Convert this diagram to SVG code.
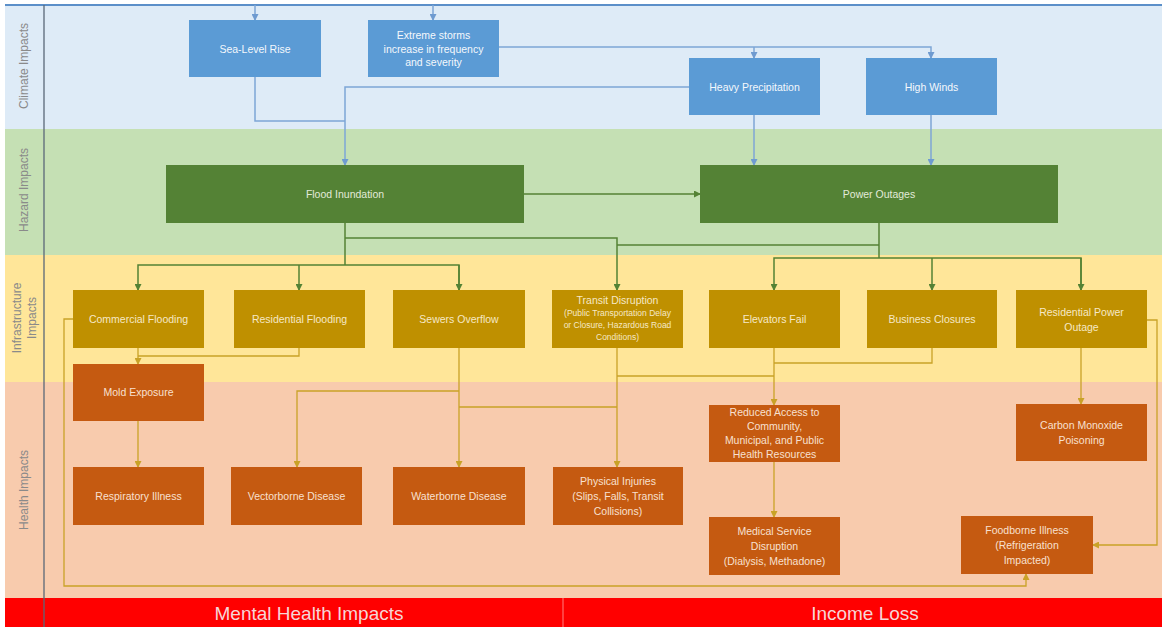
<svg xmlns="http://www.w3.org/2000/svg" width="1164" height="629" viewBox="0 0 1164 629">
<defs>
<style>
.t{font-family:"Liberation Sans",Arial,sans-serif;font-size:10.5px;text-anchor:middle;dominant-baseline:central}
.ts{font-size:8.5px}
.lbl{font-family:"Liberation Sans",Arial,sans-serif;font-size:12px;fill:#8a8a8a;text-anchor:middle;dominant-baseline:central}
.bar{font-family:"Liberation Sans",Arial,sans-serif;font-size:19px;fill:#f6d6d6;text-anchor:middle;dominant-baseline:central}
.cb{fill:#5b9bd5}.cbt{fill:#f4f8fc}
.hz{fill:#548235}.hzt{fill:#e2ead9}
.in{fill:#bf9000}.int{fill:#f6e8c6}
.he{fill:#c55a11}.het{fill:#f8e0d0}
.lb{fill:none;stroke:#7ea6d6;stroke-width:1.5}
.lg{fill:none;stroke:#548235;stroke-width:1.5}
.ly{fill:none;stroke:#c9a227;stroke-width:1.3}
</style>
<marker id="ab" markerWidth="7" markerHeight="7" refX="6" refY="3.5" orient="auto" markerUnits="userSpaceOnUse"><path d="M0,0 L7,3.5 L0,7 Z" fill="#6f9bd0"/></marker>
<marker id="ag" markerWidth="7" markerHeight="7" refX="6" refY="3.5" orient="auto" markerUnits="userSpaceOnUse"><path d="M0,0 L7,3.5 L0,7 Z" fill="#548235"/></marker>
<marker id="ay" markerWidth="7" markerHeight="7" refX="6" refY="3.5" orient="auto" markerUnits="userSpaceOnUse"><path d="M0,0 L7,3.5 L0,7 Z" fill="#c9a227"/></marker>
</defs>

<g id="bands">
<rect x="5" y="5" width="1157" height="124" fill="#deebf7"/>
<rect x="5" y="129" width="1157" height="126" fill="#c5e0b4"/>
<rect x="5" y="255" width="1157" height="127" fill="#ffe699"/>
<rect x="5" y="382" width="1157" height="216" fill="#f8cbad"/>
<rect x="5" y="598" width="1157" height="29" fill="#ff0000"/>
<line x1="563" y1="598" x2="563" y2="627" stroke="#ff8080" stroke-width="1"/>
<line x1="5" y1="5" x2="1162" y2="5" stroke="#5b8fc9" stroke-width="2"/>
<line x1="44" y1="5" x2="44" y2="627" stroke="#5a6878" stroke-width="1.3"/>
<text class="lbl" transform="translate(24,66) rotate(-90)">Climate Impacts</text>
<text class="lbl" transform="translate(24,190) rotate(-90)">Hazard Impacts</text>
<text class="lbl" transform="translate(17,318) rotate(-90)">Infrastructure</text>
<text class="lbl" transform="translate(32,318) rotate(-90)">Impacts</text>
<text class="lbl" transform="translate(24,490) rotate(-90)">Health Impacts</text>
<text class="bar" x="309" y="613">Mental Health Impacts</text>
<text class="bar" x="865" y="613">Income Loss</text>
</g>

<g id="connectors">
<path class="lb" d="M255,5 V20" marker-end="url(#ab)"/>
<path class="lb" d="M433,5 V20" marker-end="url(#ab)"/>
<path class="lb" d="M499,47 H931 V58" marker-end="url(#ab)"/>
<path class="lb" d="M754,47 V58" marker-end="url(#ab)"/>
<path class="lb" d="M255,77 V121 H345"/>
<path class="lb" d="M689,87 H345 V165" marker-end="url(#ab)"/>
<path class="lb" d="M754,115 V165" marker-end="url(#ab)"/>
<path class="lb" d="M931,115 V165" marker-end="url(#ab)"/>

<path class="lg" d="M523,194 H700" marker-end="url(#ag)"/>
<path class="lg" d="M345,223 V265"/>
<path class="lg" d="M459,290 V265 H138 V290" marker-end="url(#ag)"/>
<path class="lg" d="M299,265 V290" marker-end="url(#ag)"/>
<path class="lg" d="M459,265 V290" marker-end="url(#ag)"/>
<path class="lg" d="M345,238 H617 V290" marker-end="url(#ag)"/>
<path class="lg" d="M879,223 V258"/>
<path class="lg" d="M879,245 H617"/>
<path class="lg" d="M1081,290 V258 H774 V290" marker-end="url(#ag)"/>
<path class="lg" d="M932,258 V290" marker-end="url(#ag)"/>
<path class="lg" d="M1081,258 V290" marker-end="url(#ag)"/>

<path class="ly" d="M138,348 V364" marker-end="url(#ay)"/>
<path class="ly" d="M299,348 V356 H138"/>
<path class="ly" d="M138,421 V467" marker-end="url(#ay)"/>
<path class="ly" d="M459,348 V467" marker-end="url(#ay)"/>
<path class="ly" d="M459,391 H297 V467" marker-end="url(#ay)"/>
<path class="ly" d="M459,407 H617"/>
<path class="ly" d="M617,348 V467" marker-end="url(#ay)"/>
<path class="ly" d="M617,376 H774"/>
<path class="ly" d="M774,348 V405" marker-end="url(#ay)"/>
<path class="ly" d="M932,348 V363 H774"/>
<path class="ly" d="M774,462 V517" marker-end="url(#ay)"/>
<path class="ly" d="M1081,348 V404" marker-end="url(#ay)"/>
<path class="ly" d="M1147,320 H1157 V545 H1093" marker-end="url(#ay)"/>
<path class="ly" d="M73,319 H64 V586 H1026 V574" marker-end="url(#ay)"/>
</g>

<g id="sea-level-rise"><rect class="cb" x="189" y="20" width="132" height="57"/><text class="t cbt" x="255" y="48.5">Sea-Level Rise</text></g>
<g id="extreme-storms"><rect class="cb" x="368" y="20" width="131" height="57"/><text class="t cbt" x="433.5" y="35">Extreme  storms</text><text class="t cbt" x="433.5" y="48.5">increase in frequency</text><text class="t cbt" x="433.5" y="62">and severity</text></g>
<g id="heavy-precipitation"><rect class="cb" x="689" y="58" width="131" height="57"/><text class="t cbt" x="754.5" y="86.5">Heavy Precipitation</text></g>
<g id="high-winds"><rect class="cb" x="866" y="58" width="131" height="57"/><text class="t cbt" x="931.5" y="86.5">High Winds</text></g>

<g id="flood-inundation"><rect class="hz" x="166" y="165" width="358" height="58"/><text class="t hzt" x="345" y="194">Flood Inundation</text></g>
<g id="power-outages"><rect class="hz" x="700" y="165" width="358" height="58"/><text class="t hzt" x="879" y="194">Power Outages</text></g>

<g id="commercial-flooding"><rect class="in" x="73" y="290" width="131" height="58"/><text class="t int" x="138.5" y="319">Commercial Flooding</text></g>
<g id="residential-flooding"><rect class="in" x="234" y="290" width="131" height="58"/><text class="t int" x="299.5" y="319">Residential Flooding</text></g>
<g id="sewers-overflow"><rect class="in" x="393" y="290" width="132" height="58"/><text class="t int" x="459" y="319">Sewers Overflow</text></g>
<g id="transit-disruption"><rect class="in" x="552" y="290" width="131" height="58"/><text class="t int" x="617.5" y="300">Transit Disruption</text><text class="t ts int" x="617.5" y="313">(Public Transportation Delay</text><text class="t ts int" x="617.5" y="325">or Closure, Hazardous Road</text><text class="t ts int" x="617.5" y="337">Conditions)</text></g>
<g id="elevators-fail"><rect class="in" x="709" y="290" width="131" height="58"/><text class="t int" x="774.5" y="319">Elevators Fail</text></g>
<g id="business-closures"><rect class="in" x="867" y="290" width="130" height="58"/><text class="t int" x="932" y="319">Business Closures</text></g>
<g id="residential-power-outage"><rect class="in" x="1016" y="290" width="131" height="58"/><text class="t int" x="1081.5" y="312">Residential Power</text><text class="t int" x="1081.5" y="327">Outage</text></g>

<g id="mold-exposure"><rect class="he" x="73" y="364" width="131" height="57"/><text class="t het" x="138.5" y="392">Mold Exposure</text></g>
<g id="respiratory-illness"><rect class="he" x="73" y="467" width="131" height="58"/><text class="t het" x="138.5" y="496">Respiratory Illness</text></g>
<g id="vectorborne-disease"><rect class="he" x="231" y="467" width="131" height="58"/><text class="t het" x="296.5" y="496">Vectorborne Disease</text></g>
<g id="waterborne-disease"><rect class="he" x="393" y="467" width="132" height="58"/><text class="t het" x="459" y="496">Waterborne Disease</text></g>
<g id="physical-injuries"><rect class="he" x="553" y="467" width="130" height="58"/><text class="t het" x="618" y="481">Physical Injuries</text><text class="t het" x="618" y="496">(Slips, Falls, Transit</text><text class="t het" x="618" y="511">Collisions)</text></g>
<g id="reduced-access"><rect class="he" x="709" y="405" width="131" height="57"/><text class="t het" x="774.5" y="412">Reduced  Access to</text><text class="t het" x="774.5" y="426">Community,</text><text class="t het" x="774.5" y="440">Municipal, and Public</text><text class="t het" x="774.5" y="454">Health Resources</text></g>
<g id="carbon-monoxide"><rect class="he" x="1016" y="404" width="131" height="57"/><text class="t het" x="1081.5" y="425">Carbon Monoxide</text><text class="t het" x="1081.5" y="440">Poisoning</text></g>
<g id="medical-service"><rect class="he" x="709" y="517" width="131" height="58"/><text class="t het" x="774.5" y="531">Medical Service</text><text class="t het" x="774.5" y="546">Disruption</text><text class="t het" x="774.5" y="561">(Dialysis, Methadone)</text></g>
<g id="foodborne-illness"><rect class="he" x="961" y="516" width="132" height="58"/><text class="t het" x="1027" y="530">Foodborne Illness</text><text class="t het" x="1027" y="545">(Refrigeration</text><text class="t het" x="1027" y="560">Impacted)</text></g>
</svg>
